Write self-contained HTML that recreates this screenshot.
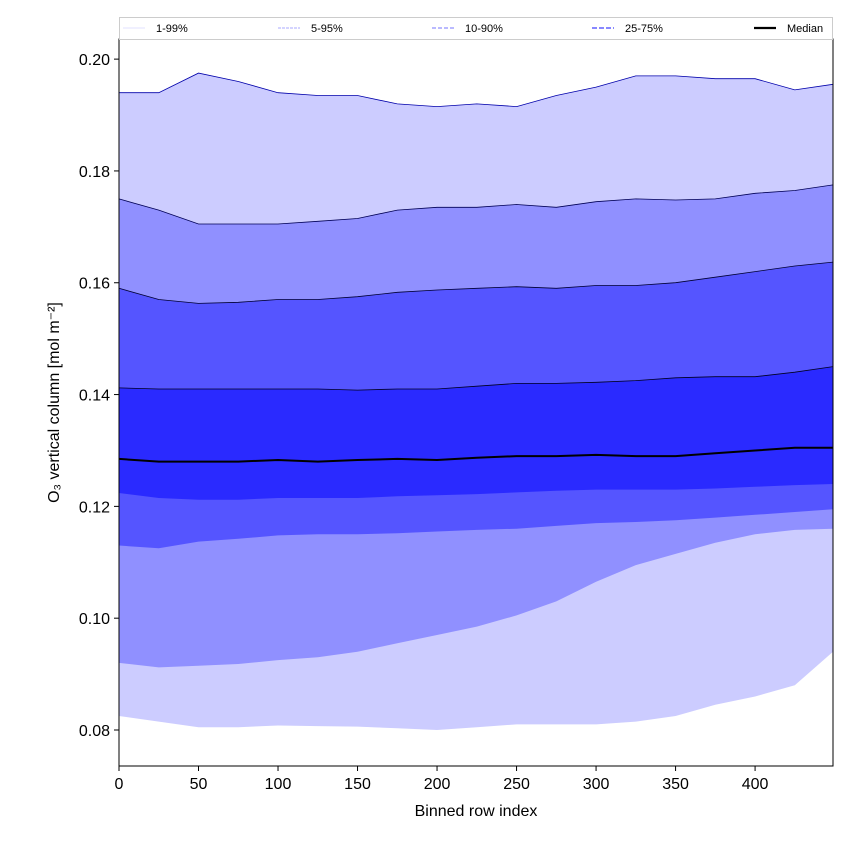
<!DOCTYPE html>
<html><head><meta charset="utf-8"><style>
body{margin:0;background:#fff;}
svg text{font-family:"Liberation Sans",sans-serif;}
</style></head><body>
<svg id="chart" width="850" height="850" xmlns="http://www.w3.org/2000/svg">
<rect width="850" height="850" fill="#fff"/>
<g id="bands"></g>
<g id="axes"></g>
<g id="legend"></g>
</svg>
<script>
const rows = [0,25,50,75,100,125,150,175,200,225,250,275,300,325,350,375,400,425,449];
const p99 = [0.194,0.194,0.1975,0.196,0.194,0.1935,0.1935,0.192,0.1915,0.192,0.1915,0.1935,0.195,0.197,0.197,0.1965,0.1965,0.1945,0.1955];
const p95 = [0.175,0.173,0.1705,0.1705,0.1705,0.171,0.1715,0.173,0.1735,0.1735,0.174,0.1735,0.1745,0.175,0.1748,0.175,0.176,0.1765,0.1775];
const p90 = [0.159,0.157,0.1563,0.1565,0.157,0.157,0.1575,0.1583,0.1587,0.159,0.1593,0.159,0.1595,0.1595,0.16,0.161,0.162,0.163,0.1637];
const p75 = [0.1412,0.141,0.141,0.141,0.141,0.141,0.1408,0.141,0.141,0.1415,0.142,0.142,0.1422,0.1425,0.143,0.1432,0.1432,0.144,0.145];
const median = [0.1285,0.128,0.128,0.128,0.1283,0.128,0.1283,0.1285,0.1283,0.1287,0.129,0.129,0.1292,0.129,0.129,0.1295,0.13,0.1305,0.1305];
const p25 = [0.1224,0.1215,0.1212,0.1212,0.1215,0.1215,0.1215,0.1218,0.122,0.1222,0.1225,0.1228,0.123,0.123,0.123,0.1232,0.1235,0.1238,0.124];
const p10 = [0.113,0.1125,0.1137,0.1142,0.1148,0.115,0.115,0.1152,0.1155,0.1158,0.116,0.1165,0.117,0.1172,0.1175,0.118,0.1185,0.119,0.1195];
const p5 = [0.092,0.0912,0.0915,0.0918,0.0925,0.093,0.094,0.0955,0.097,0.0985,0.1005,0.103,0.1065,0.1095,0.1115,0.1135,0.115,0.1158,0.116];
const p1 = [0.0825,0.0815,0.0805,0.0805,0.0808,0.0807,0.0806,0.0803,0.080,0.0805,0.081,0.081,0.081,0.0815,0.0825,0.0845,0.086,0.088,0.0940];
const xTicks = [0,50,100,150,200,250,300,350,400];
const yTicks = [0.08,0.10,0.12,0.14,0.16,0.18,0.20];

const L=119,R=833,T=39,B=766;
const X0=0,X1=449,Y0=0.07356,Y1=0.2036;
const sx=v=>L+(v-X0)/(X1-X0)*(R-L);
const sy=v=>B-(v-Y0)/(Y1-Y0)*(B-T);
const NS="http://www.w3.org/2000/svg";
function mk(tag,attrs,parent){const e=document.createElementNS(NS,tag);for(const k in attrs)e.setAttribute(k,attrs[k]);parent.appendChild(e);return e;}
const bands=document.getElementById('bands');
function line(arr){return arr.map((v,i)=>(i?'L':'M')+sx(rows[i]).toFixed(1)+','+sy(v).toFixed(1)).join('');}
function area(up,lo){let d=line(up);for(let i=lo.length-1;i>=0;i--)d+='L'+sx(rows[i]).toFixed(1)+','+sy(lo[i]).toFixed(1);return d+'Z';}
const defs=[[p99,p1,'#ccccff','band-1-99'],[p95,p5,'#9090ff','band-5-95'],[p90,p10,'#5555ff','band-10-90'],[p75,p25,'#2a2aff','band-25-75']];
defs.forEach(([u,l,c,n])=>{
  const p=mk('path',{d:area(u,l),fill:c},bands);
  
  
});
[[p99,'#0000aa'],[p95,'#000055'],[p90,'#000033'],[p75,'#000022']].forEach(([u,c],i)=>{
  const p=mk('path',{d:line(u),fill:'none',stroke:c,'stroke-width':0.8},bands);
  
  
});
const med=mk('path',{d:line(median),fill:'none',stroke:'#000','stroke-width':2},bands);



const ax=document.getElementById('axes');
const frame=mk('rect',{x:L,y:T,width:R-L,height:B-T,fill:'none',stroke:'#000','stroke-width':1},ax);


xTicks.forEach(v=>{
  mk('line',{x1:sx(v),x2:sx(v),y1:B,y2:B+5,stroke:'#000'},ax);
  const t=mk('text',{x:sx(v),y:B+23,'font-size':16,'text-anchor':'middle'},ax);t.textContent=v;
  
  
});
yTicks.forEach(v=>{
  mk('line',{x1:L-5,x2:L,y1:sy(v),y2:sy(v),stroke:'#000'},ax);
  const t=mk('text',{x:L-9,y:sy(v)+6,'font-size':16,'text-anchor':'end'},ax);t.textContent=v.toFixed(2);
  
  
});
const xt=mk('text',{x:(L+R)/2,y:816,'font-size':16,'text-anchor':'middle'},ax);xt.textContent='Binned row index';


const yt=mk('text',{x:0,y:0,'font-size':16,'text-anchor':'middle',transform:`translate(59,${(T+B)/2}) rotate(-90)`},ax);yt.textContent='O₃ vertical column [mol m⁻²]';



const lg=document.getElementById('legend');
mk('rect',{x:119.5,y:17.5,width:713,height:22,fill:'#fff',stroke:'#ccc'},lg);
const items=[['1-99%',123,'#e0e0ff',1,'none'],['5-95%',278,'#aaaaff',1,'3,1'],['10-90%',432,'#9090ff',1.3,'4,2'],['25-75%',592,'#6060ff',1.6,'5,2'],['Median',754,'#000',2.2,'none']];
items.forEach(([lab,x,c,w,da])=>{
  const g=mk('g',{},lg);
  
  
  mk('line',{x1:x,x2:x+22,y1:28,y2:28,stroke:c,'stroke-width':w,'stroke-dasharray':da},g);
  const t=mk('text',{x:x+33,y:32,'font-size':11},g);t.textContent=lab;
});
</script>
</body></html>
